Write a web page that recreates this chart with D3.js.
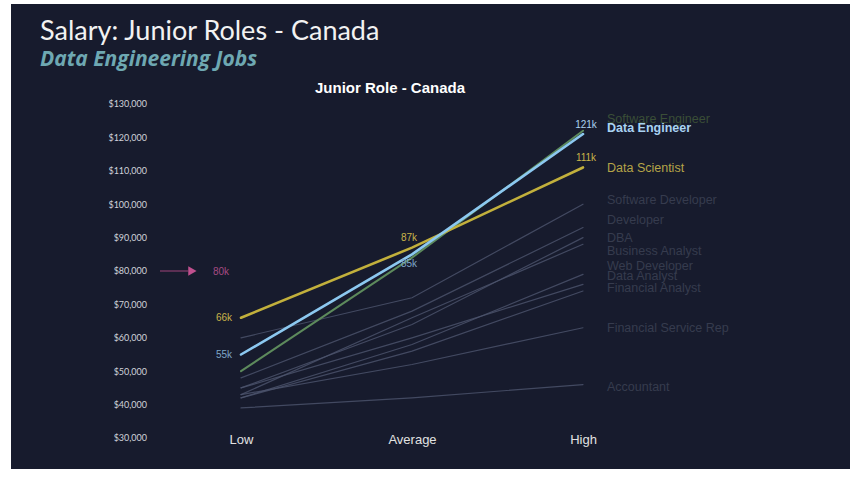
<!doctype html>
<html>
<head>
<meta charset="utf-8">
<title>Salary: Junior Roles - Canada</title>
<script src="https://cdn.jsdelivr.net/npm/d3@7"></script>
<style>
  body { margin: 0; background: #ffffff; }
</style>
</head>
<body>
<script>

    // data (salary in CAD)
    var levels = ["Low", "Average", "High"];
    var roles = ["Accountant", "Financial Service Rep", "Financial Analyst", "Data Analyst", "Web Developer",
                 "Business Analyst", "DBA", "Developer", "Software Developer",
                 "Software Engineer", "Data Scientist", "Data Engineer"];
    var lowValues  = [39000, 43000, 42000, 45000, 42000, 43000, 45000, 48000, 60000, 50000, 66000, 55000];
    var avgValues  = [42000, 52000, 56000, 60000, 58000, 66000, 64000, 68000, 72000, 84000, 87000, 85000];
    var highValues = [46000, 63000, 74000, 76000, 79000, 88000, 90000, 93000, 100000, 122000, 111000, 121000];
    // where the role names sit on the right
    var labelValues = [45500, 63000, 75000, 78500, 81500, 86000, 90000, 95500, 101500, 125500, 111000, 123000];
    var yTicks = [30000, 40000, 50000, 60000, 70000, 80000, 90000, 100000, 110000, 120000, 130000];
    var targetSalary = 80000;

    var highlight = {
        "Data Engineer":     { line: "#8cc8f0", text: "#a9d2f2", width: 2.6, bold: true },
        "Data Scientist":    { line: "#c2b03c", text: "#b5a448", width: 2.6, bold: false },
        "Software Engineer": { line: "#5d8a5c", text: "#3a4e37", width: 2,   bold: false }
    };

    var width = 865, height = 480;

    var svg = d3.select("body").append("svg")
        .attr("width", width)
        .attr("height", height);

    svg.append("rect")
        .attr("x", 11)
        .attr("y", 4)
        .attr("width", 839)
        .attr("height", 465)
        .attr("fill", "#171b2d");

    svg.append("text")
        .attr("x", 40)
        .attr("y", 40)
        .text("Salary: Junior Roles - Canada")
        .attr("font-family", "Lato, sans-serif")
        .attr("font-size", "27px")
        .attr("fill", "#f2f2f2");

    svg.append("text")
        .attr("x", 40)
        .attr("y", 66)
        .text("Data Engineering Jobs")
        .attr("font-family", "'Open Sans', sans-serif")
        .attr("font-size", "21px")
        .style("font-weight", "bold")
        .style("font-style", "italic")
        .attr("fill", "#6ea8b2");

    svg.append("text")
        .attr("x", 390)
        .attr("y", 93)
        .attr("text-anchor", "middle")
        .text("Junior Role - Canada")
        .attr("font-family", "'Liberation Sans', Arial, sans-serif")
        .attr("font-size", "15px")
        .style("font-weight", "bold")
        .attr("fill", "#ffffff");

    var x = d3.scalePoint()
        .domain(levels)
        .range([241, 583]);

    var y = d3.scaleLinear()
        .domain([30000, 130000])
        .range([438, 104]);

    var fmt = d3.format(",");

    var yAxis = svg.append("g")
        .attr("transform", "translate(150,0)")
        .call(d3.axisLeft(y).tickValues(yTicks).tickSize(0).tickPadding(3)
            .tickFormat(function(d) { return "$" + fmt(d); }));
    yAxis.select(".domain").remove();
    yAxis.selectAll("text")
        .attr("font-family", "Lato, sans-serif")
        .attr("font-size", "9px")
        .attr("fill", "#d0d2da");

    var xAxis = svg.append("g")
        .attr("transform", "translate(0,432)")
        .call(d3.axisBottom(x).tickSize(0).tickPadding(3));
    xAxis.select(".domain").remove();
    xAxis.selectAll("text")
        .attr("font-family", "'Liberation Sans', Arial, sans-serif")
        .attr("font-size", "13px")
        .attr("fill", "#e2e2e2");

    var line = d3.line()
        .x(function(d) { return x(d.level); })
        .y(function(d) { return y(d.value); });

    function points(i) {
        return [
            { level: levels[0], value: lowValues[i] },
            { level: levels[1], value: avgValues[i] },
            { level: levels[2], value: highValues[i] }
        ];
    }

    // grey roles first, highlighted roles on top
    for (var i = 0; i < roles.length; i++) {
        var h = highlight[roles[i]];
        svg.append("path")
            .datum(points(i))
            .attr("d", line)
            .attr("fill", "none")
            .attr("stroke", h ? h.line : "#4e556e")
            .attr("stroke-width", h ? h.width : 1.2)
            .attr("stroke-opacity", h ? 1 : 0.8)
            .attr("stroke-linecap", "round");

        svg.append("text")
            .attr("x", 607)
            .attr("y", y(labelValues[i]))
            .attr("dy", "0.35em")
            .text(roles[i])
            .attr("font-family", "'Liberation Sans', Arial, sans-serif")
            .attr("font-size", "12.5px")
            .style("font-weight", h && h.bold ? "bold" : "normal")
            .attr("fill", h ? h.text : "#363b4e");
    }

    // value labels for the two featured roles
    function kLabel(v, xp, yp, anchor, color) {
        svg.append("text")
            .attr("x", xp)
            .attr("y", yp)
            .attr("dy", "0.35em")
            .attr("text-anchor", anchor)
            .text(Math.round(v / 1000) + "k")
            .attr("font-family", "'Liberation Sans', Arial, sans-serif")
            .attr("font-size", "10px")
            .attr("fill", color);
    }

    var de = roles.indexOf("Data Engineer");
    var ds = roles.indexOf("Data Scientist");
    kLabel(lowValues[de], x("Low") - 9, y(lowValues[de]), "end", "#7fa6c8");
    kLabel(lowValues[ds], x("Low") - 9, y(lowValues[ds]), "end", "#c9b54a");
    kLabel(avgValues[de], x("Average") - 3, y(avgValues[de]) + 9, "middle", "#7fa6c8");
    kLabel(avgValues[ds], x("Average") - 3, y(avgValues[ds]) - 10, "middle", "#c9b54a");
    kLabel(highValues[de], x("High") + 3, y(highValues[de]) - 10, "middle", "#a9d2f2");
    kLabel(highValues[ds], x("High") + 3, y(highValues[ds]) - 10, "middle", "#c9b54a");

    // target salary marker
    svg.append("line")
        .attr("x1", 160)
        .attr("y1", y(targetSalary))
        .attr("x2", 188)
        .attr("y2", y(targetSalary))
        .attr("stroke", "#a0447a")
        .attr("stroke-width", 1);

    svg.append("path")
        .attr("d", d3.symbol().type(d3.symbolTriangle).size(40))
        .attr("transform", "translate(191," + y(targetSalary) + ") rotate(90)")
        .attr("fill", "#c0508e");

    svg.append("text")
        .attr("x", 213)
        .attr("y", y(targetSalary))
        .attr("dy", "0.35em")
        .text(Math.round(targetSalary / 1000) + "k")
        .attr("font-family", "'Liberation Sans', Arial, sans-serif")
        .attr("font-size", "10px")
        .attr("fill", "#a44a82");

</script>
</body>
</html>
